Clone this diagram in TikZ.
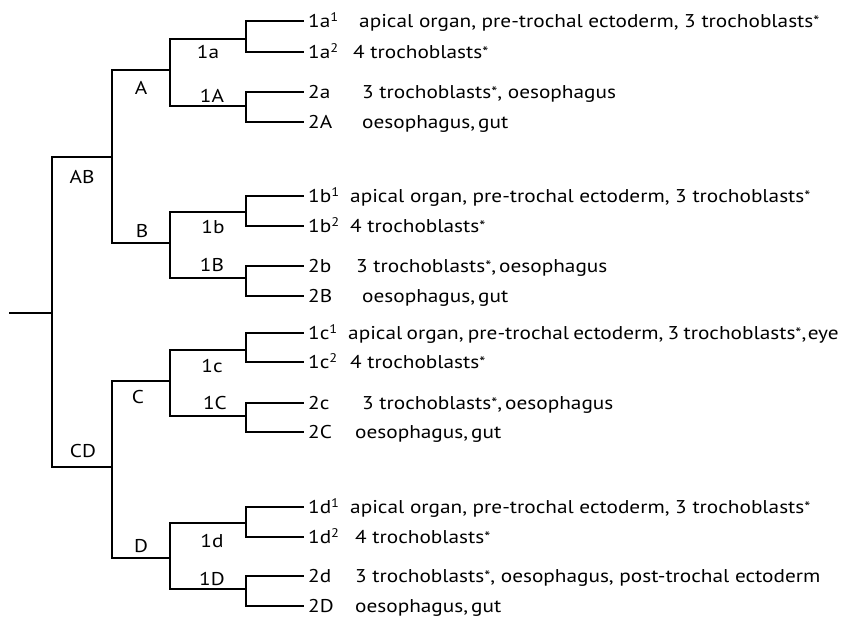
\documentclass[tikz,border=0pt]{standalone}
\usepackage{fontspec}
\setmainfont[FakeStretch=1.15]{PT Sans}
\newcommand{\astr}{{\fontsize{15}{15}\selectfont\raisebox{0.5pt}{*}}}
\newcommand{\sps}[1]{\raisebox{6pt}{\fontsize{12.5}{13}\selectfont #1}}
\tikzset{
  tree/.style={line width=1.8pt, line join=miter, line cap=rect},
  lbl/.style={inner sep=0pt, anchor=base, font=\fontsize{18.5}{22}\selectfont},
  leafid/.style={inner sep=0pt, anchor=base west, font=\fontsize{18.5}{22}\selectfont},
  desc/.style={inner sep=0pt, anchor=base west, font=\fontsize{18.5}{22}\selectfont}
}
\begin{document}
\begin{tikzpicture}[x=1pt,y=-1pt]
\useasboundingbox (0,0) rectangle (846,622);
% internal junctions
\coordinate (root) at (10,313);
\coordinate (r) at (52,313);
\coordinate (AB) at (112,157);
\coordinate (CD) at (112,467);
\coordinate (A) at (170,70);
\coordinate (B) at (170,243);
\coordinate (C) at (170,381);
\coordinate (D) at (170,558);
\coordinate (1a) at (246,39);
\coordinate (1A) at (246,106);
\coordinate (1b) at (246,212);
\coordinate (1B) at (246,278);
\coordinate (1c) at (246,350);
\coordinate (1C) at (246,416);
\coordinate (1d) at (246,523);
\coordinate (1D) at (246,589);
% leaf ends
\foreach \n/\y in {1a1/21,1a2/52,2a/92,2A/122,1b1/196,1b2/226,2b/266,2B/296,1c1/333,1c2/362,2c/403,2C/432,1d1/507,1d2/537,2d/576,2D/606}
  \coordinate (e\n) at (303,\y);
% tree
\draw[tree] (root) -- (r);
\draw[tree] (r) |- (AB);
\draw[tree] (r) |- (CD);
\draw[tree] (AB) |- (A);
\draw[tree] (AB) |- (B);
\draw[tree] (CD) |- (C);
\draw[tree] (CD) |- (D);
\draw[tree] (A) |- (1a);
\draw[tree] (A) |- (1A);
\draw[tree] (B) |- (1b);
\draw[tree] (B) |- (1B);
\draw[tree] (C) |- (1c);
\draw[tree] (C) |- (1C);
\draw[tree] (D) |- (1d);
\draw[tree] (D) |- (1D);
\draw[tree] (1a) |- (e1a1); \draw[tree] (1a) |- (e1a2);
\draw[tree] (1A) |- (e2a);  \draw[tree] (1A) |- (e2A);
\draw[tree] (1b) |- (e1b1); \draw[tree] (1b) |- (e1b2);
\draw[tree] (1B) |- (e2b);  \draw[tree] (1B) |- (e2B);
\draw[tree] (1c) |- (e1c1); \draw[tree] (1c) |- (e1c2);
\draw[tree] (1C) |- (e2c);  \draw[tree] (1C) |- (e2C);
\draw[tree] (1d) |- (e1d1); \draw[tree] (1d) |- (e1d2);
\draw[tree] (1D) |- (e2d);  \draw[tree] (1D) |- (e2D);
% branch labels
\node[lbl] (lAB) at (82,183) {AB};
\node[lbl] (lCD) at (83,457) {CD};
\node[lbl] (lA) at (141,94) {A};
\node[lbl] (lB) at (142,237) {B};
\node[lbl] (lC) at (138,403) {C};
\node[lbl] (lD) at (141,552) {D};
\node[lbl] (l1a) at (208,58) {1a};
\node[lbl] (l1A) at (212,102) {1A};
\node[lbl] (l1b) at (213,233) {1b};
\node[lbl] (l1B) at (212,271) {1B};
\node[lbl] (l1c) at (212,372) {1c};
\node[lbl] (l1C) at (215,409) {1C};
\node[lbl] (l1d) at (212,547) {1d};
\node[lbl] (l1D) at (212,585) {1D};
% leaf ids
\node[leafid] (t1a1) at (308,27) {1a\sps{1}};
\node[leafid] (t1a2) at (308,58) {1a\sps{2}};
\node[leafid] (t2a) at (308,98) {2a};
\node[leafid] (t2A) at (308,128) {2A};
\node[leafid] (t1b1) at (308,202) {1b\sps{1}};
\node[leafid] (t1b2) at (308,232) {1b\sps{2}};
\node[leafid] (t2b) at (308,272) {2b};
\node[leafid] (t2B) at (308,302) {2B};
\node[leafid] (t1c1) at (308,339) {1c\sps{1}};
\node[leafid] (t1c2) at (308,368) {1c\sps{2}};
\node[leafid] (t2c) at (308,409) {2c};
\node[leafid] (t2C) at (308,438) {2C};
\node[leafid] (t1d1) at (308,513) {1d\sps{1}};
\node[leafid] (t1d2) at (308,543) {1d\sps{2}};
\node[leafid] (t2d) at (308,582) {2d};
\node[leafid] (t2D) at (308,612) {2D};
% descriptions
\node[desc] (d1a1) at (359,27) {apical organ, pre-trochal ectoderm, 3 trochoblasts\astr};
\node[desc] (d1a2) at (353,58) {4 trochoblasts\astr};
\node[desc] (d2a) at (362,98) {3 trochoblasts\astr, oesophagus};
\node[desc] (d2A) at (362,128) {oesophagus,\,gut};
\node[desc] (d1b1) at (350,202) {apical organ, pre-trochal ectoderm, 3 trochoblasts\astr};
\node[desc] (d1b2) at (350,232) {4 trochoblasts\astr};
\node[desc] (d2b) at (356,272) {3 trochoblasts\astr,\,oesophagus};
\node[desc] (d2B) at (362,302) {oesophagus,\,gut};
\node[desc] (d1c1) at (348,339) {\spaceskip=4.3pt plus 1pt apical organ, pre-trochal ectoderm, 3 trochoblasts\astr,\kern1.5pt eye};
\node[desc] (d1c2) at (350,368) {4 trochoblasts\astr};
\node[desc] (d2c) at (362,409) {3 trochoblasts\astr,\,oesophagus};
\node[desc] (d2C) at (355,438) {oesophagus,\,gut};
\node[desc] (d1d1) at (350,513) {apical organ, pre-trochal ectoderm, 3 trochoblasts\astr};
\node[desc] (d1d2) at (355,543) {4 trochoblasts\astr};
\node[desc] (d2d) at (355,582) {3 trochoblasts\astr, oesophagus, post-trochal ectoderm};
\node[desc] (d2D) at (355,612) {oesophagus,\,gut};
\end{tikzpicture}
\end{document}
